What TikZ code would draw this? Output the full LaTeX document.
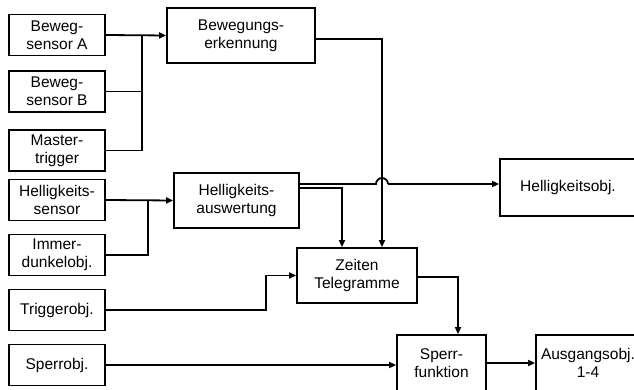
\documentclass[tikz,border=0pt]{standalone}
\usepackage{fontspec}
\setmainfont{Liberation Sans}
\usetikzlibrary{arrows.meta}
\tikzset{
  box/.style={draw, line width=1.8pt, align=center, inner sep=0pt,
    font=\fontsize{15.5}{18}\selectfont},
  lbox/.style={box, minimum width=96, minimum height=41},
  wire/.style={line width=1.8pt},
  arr/.style={wire, -{Triangle[length=7pt,width=6pt]}}
}
\begin{document}
\begin{tikzpicture}[x=1pt, y=-1pt]
    \useasboundingbox (0,0) rectangle (634,390);
    \clip (0,0) rectangle (634,390);
    \node[lbox] (bsA) at (57,35) {Beweg-\\sensor A};
    \node[lbox] (bsB) at (57,91.5) {Beweg-\\sensor B};
    \node[lbox] (master) at (57,150.5) {Master-\\trigger};
    \node[lbox] (hsens) at (57,200) {Helligkeits-\\sensor};
    \node[lbox] (immer) at (57,255) {Immer-\\dunkelobj.};
    \node[lbox] (trigobj) at (57,310) {Triggerobj.};
    \node[lbox] (sperrobj) at (57,365) {Sperrobj.};
    \node[box, minimum width=148, minimum height=55] (beweg) at (241,35.5) {Bewegungs-\\erkennung};
    \node[box, minimum width=125, minimum height=55] (hauswert) at (236.5,200.5) {Helligkeits-\\auswertung};
    \node[box, minimum width=120, minimum height=55] (zeiten) at (357,275.5) {Zeiten\\Telegramme};
    \node[box, minimum width=136, minimum height=57] (hobj) at (568,187.5) {Helligkeitsobj.};
    \node[box, minimum width=89, minimum height=56] (sperr) at (441.5,363) {Sperr-\\funktion};
    \node[box, minimum width=104, minimum height=56] (ausgang) at (588,363) {Ausgangsobj.\\1-4};
    \coordinate (jb) at (142,35);
    \coordinate (jh) at (148,200);
    \coordinate (jt) at (266,0);
    \coordinate (hop) at (382,184);
    \draw[arr] (bsA.east) -- (beweg.west);
    \draw[wire] (bsB.east) -| (jb);
    \draw[wire] (master.east) -| (jb);
    \draw[arr] (hsens.east) -- (hauswert.west);
    \draw[wire] (immer.east) -| (jh);
    \draw[arr] ([yshift=-3.5]beweg.east) -| ([xshift=25]zeiten.north);
    \draw[wire] (hauswert.east |- hop) -- ([xshift=-6]hop) arc[start angle=180, end angle=360, radius=6];
    \draw[arr] ([xshift=6]hop) -- (hobj.west |- hop);
    \draw[arr] ([yshift=12.5]hauswert.east) -| ([xshift=-15]zeiten.north);
    \draw[arr] (trigobj.east) -- (trigobj.east -| jt) |- (zeiten.west);
    \draw[arr] ([yshift=-1.5]zeiten.east) -| ([xshift=16.5]sperr.north);
    \draw[arr] (sperrobj.east) -- (sperr.west |- sperrobj.east);
    \draw[arr] (sperr.east) -- (ausgang.west);
\end{tikzpicture}
\end{document}
